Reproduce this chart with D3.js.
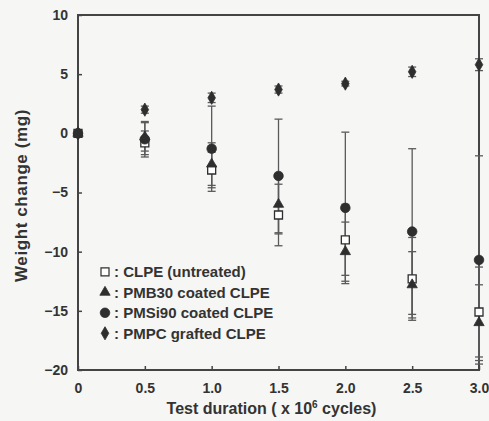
<!DOCTYPE html>
<html>
<head>
<meta charset="utf-8">
<script src="https://cdn.jsdelivr.net/npm/d3@7"></script>
<style>
  body { margin: 0; background: #f6f6f4; }
  svg text { font-family: Arial, "Liberation Sans", sans-serif; font-weight: bold; fill: #333; }
</style>
</head>
<body>
<div id="chart"></div>
<script>
// test duration (x 10^6 cycles)
const durations = [0, 0.5, 1.0, 1.5, 2.0, 2.5, 3.0];
const xTicks = [0, 0.5, 1.0, 1.5, 2.0, 2.5, 3.0];
const yTicks = [-20, -15, -10, -5, 0, 5, 10];

const seriesNames = ['CLPE (untreated)', 'PMB30 coated CLPE', 'PMSi90 coated CLPE', 'PMPC grafted CLPE'];
const seriesSymbols = ['square', 'triangle', 'circle', 'diamond'];

// weight change (mg) and error bar half-widths
const clpeMean = [0, -0.8, -3.1, -6.9, -9.0, -12.3, -15.1];
const clpeErr = [0, 1.0, 1.5, 2.6, 3.0, 3.5, 3.8];
const pmb30Mean = [0, -0.3, -2.6, -6.0, -10.0, -12.8, -16.0];
const pmb30Err = [0, 1.2, 1.8, 2.5, 2.5, 2.8, 3.2];
const pmsi90Mean = [0, -0.5, -1.3, -3.6, -6.3, -8.3, -10.7];
const pmsi90Err = [0, 1.5, 3.6, 4.8, 6.4, 7.0, 8.8];
const pmpcMean = [0, 2.0, 3.0, 3.7, 4.2, 5.2, 5.8];
const pmpcErr = [0, 0.3, 0.4, 0.3, 0.2, 0.4, 0.5];

const means = [clpeMean, pmb30Mean, pmsi90Mean, pmpcMean];
const errs = [clpeErr, pmb30Err, pmsi90Err, pmpcErr];

const width = 489, height = 421;
const margin = {top: 15, right: 10, bottom: 51, left: 78};
const innerW = width - margin.left - margin.right;
const innerH = height - margin.top - margin.bottom;
const ink = '#2e2e2e';

const svg = d3.select('#chart').append('svg')
    .attr('width', width)
    .attr('height', height);

const g = svg.append('g')
    .attr('transform', `translate(${margin.left},${margin.top})`);

const x = d3.scaleLinear().domain([0, 3.0]).range([0, innerW]);
const y = d3.scaleLinear().domain([-20, 10]).range([innerH, 0]);

// frame
g.append('rect')
    .attr('width', innerW)
    .attr('height', innerH)
    .attr('fill', 'none')
    .attr('stroke', '#444')
    .attr('stroke-width', 2);

// axes with inward ticks
const yAxis = g.append('g')
    .call(d3.axisLeft(y).tickValues(yTicks).tickSize(-4).tickPadding(10)
      .tickFormat(d => d < 0 ? '\u2212' + Math.abs(d) : d));
const xAxis = g.append('g')
    .attr('transform', `translate(0,${innerH})`)
    .call(d3.axisBottom(x).tickValues(xTicks).tickSize(-4).tickPadding(13)
      .tickFormat(d => d === 0 ? '0' : d3.format('.1f')(d)));
[yAxis, xAxis].forEach(a => {
  a.select('.domain').remove();
  a.selectAll('.tick line').attr('stroke', '#444').attr('stroke-width', 1.5);
  a.selectAll('.tick text').style('font-size', '14px').attr('fill', '#333');
});

// axis titles
svg.append('text')
    .attr('x', margin.left + innerW / 2 - 7)
    .attr('y', 414)
    .attr('text-anchor', 'middle')
    .style('font-size', '16px')
    .html('Test duration ( x 10<tspan dy="-6" font-size="10px">6</tspan><tspan dy="6"> cycles)</tspan>');

svg.append('text')
    .attr('transform', `translate(27,${margin.top + innerH / 2 + 3}) rotate(-90)`)
    .attr('text-anchor', 'middle')
    .style('font-size', '17px')
    .style('letter-spacing', '0.6px')
    .text('Weight change (mg)');

const symbolType = {
  square: d3.symbolSquare,
  triangle: d3.symbolTriangle,
  circle: d3.symbolCircle,
  diamond: d3.symbolDiamond
};
const symbolSize = {square: 64, triangle: 46, circle: 72, diamond: 50};

function symbolPath(name) {
  return d3.symbol().type(symbolType[name]).size(symbolSize[name])();
}

const capW = 4;

// error bars
means.forEach((m, si) => {
  const eb = g.append('g').attr('stroke', '#5a5a5a').attr('stroke-width', 1.3);
  durations.forEach((d, i) => {
    const e = errs[si][i];
    if (e === 0) return;
    const cx = x(d);
    eb.append('line')
        .attr('x1', cx).attr('x2', cx)
        .attr('y1', y(m[i] - e)).attr('y2', y(m[i] + e));
    [m[i] - e, m[i] + e].forEach(v => {
      eb.append('line')
          .attr('x1', cx - capW).attr('x2', cx + capW)
          .attr('y1', y(v)).attr('y2', y(v));
    });
  });
});

// markers
means.forEach((m, si) => {
  const sym = seriesSymbols[si];
  g.append('g').selectAll('path')
    .data(durations.map((d, i) => ({d, v: m[i]})))
    .join('path')
      .attr('transform', p => `translate(${x(p.d)},${y(p.v)})`)
      .attr('d', symbolPath(sym))
      .attr('fill', sym === 'square' ? '#fff' : ink)
      .attr('stroke', ink)
      .attr('stroke-width', sym === 'square' ? 1.3 : 0.8);
});

// legend
const legend = g.append('g').attr('transform', `translate(27,${y(-11.7)})`);
seriesNames.forEach((name, i) => {
  const row = legend.append('g').attr('transform', `translate(0,${i * 20.5})`);
  const sym = seriesSymbols[i];
  row.append('path')
      .attr('d', symbolPath(sym))
      .attr('fill', sym === 'square' ? '#fff' : ink)
      .attr('stroke', ink)
      .attr('stroke-width', sym === 'square' ? 1.2 : 0.8);
  row.append('text')
      .attr('x', 9)
      .attr('dy', '0.35em')
      .style('font-size', '15px')
      .text(': ' + name);
});
</script>
</body>
</html>
